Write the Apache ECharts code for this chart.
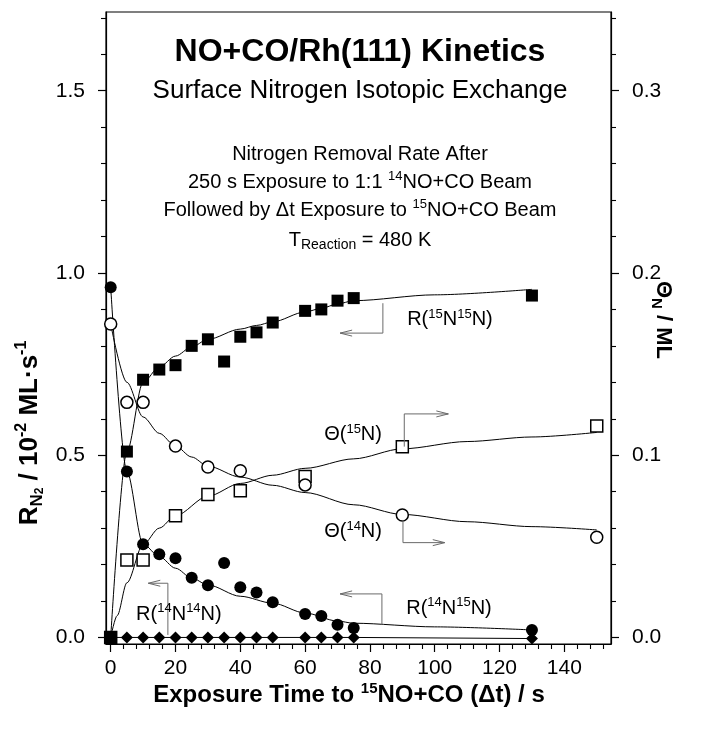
<!DOCTYPE html>
<html><head><meta charset="utf-8">
<script src="https://cdn.jsdelivr.net/npm/echarts@6/dist/echarts.min.js"></script>
<style>html,body{margin:0;padding:0;background:#fff}#c{width:706px;height:736px}</style>
</head><body><div id="c"></div>
<script>
// ---------------- DATA ----------------
// Rate measurements (left axis, 10^-2 ML/s)
const tRate   = [0, 5, 10, 15, 20, 25, 30, 35, 40, 45, 50, 60, 65, 70, 75, 130];
const r1515   = [0, 0.51, 0.707, 0.735, 0.747, 0.80, 0.818, 0.757, 0.825, 0.837, 0.864, 0.896, 0.90, 0.924, 0.931, 0.938];
const r1415   = [0.961, 0.455, 0.256, 0.228, 0.217, 0.164, 0.143, 0.204, 0.138, 0.123, 0.0965, 0.0645, 0.059, 0.035, 0.026, 0.0206];
const r1414   = [0, 0, 0, 0, 0, 0, 0, 0, 0, 0, 0, 0, 0, 0, 0, -0.003];
// Coverage measurements (right axis, ML)
const tCov    = [0, 5, 10, 20, 30, 40, 60, 90, 150];
const theta14 = [0.172, 0.129, 0.129, 0.105, 0.0935, 0.0915, 0.0837, 0.0672, 0.055];
const theta15 = [0, 0.0425, 0.0425, 0.0668, 0.0784, 0.0805, 0.0883, 0.1047, 0.116];
// Fitted curves
const fitT_r1515 = [0, 5, 10, 15, 20, 25, 30, 40, 45, 50, 60, 65, 70, 75, 100, 130];
const fit_r1515  = [0, 0.51, 0.70, 0.742, 0.772, 0.797, 0.818, 0.846, 0.856, 0.866, 0.893, 0.903, 0.915, 0.924, 0.94, 0.955];
const fitT_r1415 = [0, 5, 10, 15, 20, 25, 30, 40, 50, 60, 70, 75, 100, 130];
const fit_r1415  = [0.961, 0.455, 0.256, 0.222, 0.19, 0.163, 0.144, 0.113, 0.094, 0.067, 0.045, 0.039, 0.029, 0.0206];
const fitT_th14  = [0, 5, 10, 15, 20, 25, 30, 40, 50, 60, 75, 90, 110, 130, 150];
const fit_th14   = [0.172, 0.14, 0.121, 0.112, 0.105, 0.099, 0.094, 0.088, 0.0835, 0.0795, 0.0728, 0.0675, 0.0635, 0.0608, 0.059];
const fitT_th15  = [0, 2, 5, 10, 15, 20, 30, 40, 50, 60, 75, 90, 110, 130, 150];
const fit_th15   = [0, 0.012, 0.03, 0.051, 0.06, 0.0668, 0.0775, 0.0845, 0.089, 0.0928, 0.098, 0.1035, 0.1075, 0.110, 0.1125];
// Tick labels
const xTickLabels      = [0, 20, 40, 60, 80, 100, 120, 140];
const xMinorTicks      = [4,8,12,16,24,28,32,36,44,48,52,56,64,68,72,76,84,88,92,96,104,108,112,116,124,128,132,136,144,148,152];
const yLeftTickLabels  = [0, 0.5, 1.0, 1.5];
const yLeftMinorTicks  = [0.1,0.2,0.3,0.4,0.6,0.7,0.8,0.9,1.1,1.2,1.3,1.4,1.6,1.7];
const yRightTickLabels = [0, 0.1, 0.2, 0.3];
const yRightMinorTicks = [0.02,0.04,0.06,0.08,0.12,0.14,0.16,0.18,0.22,0.24,0.26,0.28,0.32,0.34];

// ---------------- CHART ----------------
const FONT = "'Liberation Sans', Arial, Helvetica, sans-serif";
const X_MIN = -1.45, X_MAX = 154.4;
const YL_MIN = -0.018, YL_MAX = 1.716;
const YR_MIN = YL_MIN * 0.2, YR_MAX = YL_MAX * 0.2;
const pairs = (xs, ys) => xs.map((x, i) => [x, ys[i]]);

const chart = echarts.init(document.getElementById('c'));

function majorAxis(extra) {
  return Object.assign({
    type: 'value',
    axisLine: { show: true, onZero: false, lineStyle: { color: '#000', width: 1.2 } },
    splitLine: { show: false },
  }, extra);
}
function minorAxis(extra) {
  return Object.assign({
    type: 'value',
    axisLine: { show: false, onZero: false },
    splitLine: { show: false },
    axisLabel: { show: false }
  }, extra);
}
const labelStyle = { color: '#000', fontSize: 21, fontFamily: FONT };

const option = {
  animation: false,
  backgroundColor: '#fff',
  grid: { left: 106, right: 95, top: 12, bottom: 92, show: true, borderColor: '#000', borderWidth: 1.2 },
  xAxis: [
    majorAxis({ min: X_MIN, max: X_MAX, position: 'bottom',
      axisTick: { show: true, inside: false, length: 8, customValues: xTickLabels, lineStyle: { color: '#000', width: 1.2 } },
      axisLabel: Object.assign({ show: true, customValues: xTickLabels, margin: 14, formatter: v => String(v) }, labelStyle) }),
    minorAxis({ min: X_MIN, max: X_MAX, position: 'bottom',
      axisTick: { show: true, inside: false, length: 5, customValues: xMinorTicks, lineStyle: { color: '#000', width: 1.1 } } })
  ],
  yAxis: [
    majorAxis({ min: YL_MIN, max: YL_MAX, position: 'left',
      axisTick: { show: true, inside: false, length: 8, customValues: yLeftTickLabels, lineStyle: { color: '#000', width: 1.2 } },
      axisLabel: Object.assign({ show: true, customValues: yLeftTickLabels, margin: 21, formatter: v => v.toFixed(1) }, labelStyle) }),
    majorAxis({ min: YR_MIN, max: YR_MAX, position: 'right',
      axisTick: { show: true, inside: false, length: 8, customValues: yRightTickLabels, lineStyle: { color: '#000', width: 1.2 } },
      axisLabel: Object.assign({ show: true, customValues: yRightTickLabels, margin: 21, formatter: v => v.toFixed(1) }, labelStyle) }),
    minorAxis({ min: YL_MIN, max: YL_MAX, position: 'left',
      axisTick: { show: true, inside: false, length: 5, customValues: yLeftMinorTicks, lineStyle: { color: '#000', width: 1.1 } } }),
    minorAxis({ min: YR_MIN, max: YR_MAX, position: 'right',
      axisTick: { show: true, inside: false, length: 5, customValues: yRightMinorTicks, lineStyle: { color: '#000', width: 1.1 } } })
  ],
  series: [
    { type: 'line', yAxisIndex: 0, data: pairs(fitT_r1515, fit_r1515), showSymbol: false, smooth: 0.3, smoothMonotone: 'x', lineStyle: { color: '#000', width: 1 }, z: 2, silent: true },
    { type: 'line', yAxisIndex: 0, data: pairs(fitT_r1415, fit_r1415), showSymbol: false, smooth: 0.3, smoothMonotone: 'x', lineStyle: { color: '#000', width: 1 }, z: 2, silent: true },
    { type: 'line', yAxisIndex: 1, data: pairs(fitT_th14, fit_th14), showSymbol: false, smooth: 0.3, smoothMonotone: 'x', lineStyle: { color: '#000', width: 1 }, z: 2, silent: true },
    { type: 'line', yAxisIndex: 1, data: pairs(fitT_th15, fit_th15), showSymbol: false, smooth: 0.3, smoothMonotone: 'x', lineStyle: { color: '#000', width: 1 }, z: 2, silent: true },
    { type: 'line', yAxisIndex: 0, data: pairs(tRate, r1414), symbol: 'diamond', symbolSize: 12, showSymbol: true, itemStyle: { color: '#000', opacity: 1 }, lineStyle: { color: '#000', width: 1 }, z: 3, silent: true },
    { type: 'scatter', yAxisIndex: 1, data: pairs(tCov, theta15), symbol: 'rect', symbolSize: 12, itemStyle: { color: '#fff', borderColor: '#000', borderWidth: 1.5, opacity: 1 }, z: 4, silent: true },
    { type: 'scatter', yAxisIndex: 1, data: pairs(tCov, theta14), symbol: 'circle', symbolSize: 12, itemStyle: { color: '#fff', borderColor: '#000', borderWidth: 1.5, opacity: 1 }, z: 4, silent: true },
    { type: 'scatter', yAxisIndex: 0, data: pairs(tRate, r1415), symbol: 'circle', symbolSize: 12, itemStyle: { color: '#000', opacity: 1 }, z: 5, silent: true },
    { type: 'scatter', yAxisIndex: 0, data: pairs(tRate, r1515), symbol: 'rect', symbolSize: 12, itemStyle: { color: '#000', opacity: 1 }, z: 5, silent: true }
  ]
};
chart.setOption(option);

// ---------------- TEXT & ANNOTATIONS ----------------
const supStyle = (fs, lh) => ({ fontSize: fs, lineHeight: lh, verticalAlign: 'top', fontFamily: FONT, fill: '#000' });
const subStyle = (fs, lh, bold) => ({ fontSize: fs, lineHeight: lh, verticalAlign: 'bottom', fontFamily: FONT, fill: '#000', fontWeight: bold ? 'bold' : 'normal' });

function textEl(x, y, text, fs, opts) {
  opts = opts || {};
  return {
    type: 'text', x: x, y: y, rotation: opts.rotation || 0, z: 100, silent: true,
    style: {
      text: text, fontSize: fs, fontFamily: FONT, fontWeight: opts.bold ? 'bold' : 'normal', fill: '#000',
      align: opts.align || 'center', verticalAlign: 'middle', lineHeight: opts.lineHeight || Math.round(fs * 1.2),
      rich: opts.rich || {}
    }
  };
}

const graphics = [];
const CX = 360;
graphics.push(textEl(CX, 52, 'NO+CO/Rh(111) Kinetics', 32, { bold: true }));
graphics.push(textEl(CX, 91, 'Surface Nitrogen Isotopic Exchange', 26));
graphics.push(textEl(CX, 154, 'Nitrogen Removal Rate After', 20, { lineHeight: 24 }));
graphics.push(textEl(CX, 182, '250 s Exposure to 1:1 {sup|14}NO+CO Beam', 20, { lineHeight: 24, rich: { sup: supStyle(13, 14) } }));
graphics.push(textEl(CX, 210, 'Followed by \u0394t Exposure to {sup|15}NO+CO Beam', 20, { lineHeight: 24, rich: { sup: supStyle(13, 14) } }));
graphics.push(textEl(CX, 240, 'T{sub|Reaction} = 480 K', 20, { lineHeight: 24, rich: { sub: subStyle(14, 12) } }));

// Axis titles
graphics.push(textEl(349, 695, 'Exposure Time to {sup|15}NO+CO (\u0394t) / s', 24, { bold: true, lineHeight: 28,
  rich: { sup: Object.assign(supStyle(15, 15), { fontWeight: 'bold' }) } }));
graphics.push(textEl(30, 433, 'R{sub|N}{sub2|2} / 10{sup|-2} ML\u00B7s{sup|-1}', 26, { bold: true, lineHeight: 32, rotation: Math.PI / 2,
  rich: { sub: subStyle(17, 14, true), sub2: subStyle(12, 8, true), sup: Object.assign(supStyle(16, 14), { fontWeight: 'bold' }) } }));
graphics.push(textEl(663, 320, '\u0398{sub|N} / ML', 22, { bold: true, lineHeight: 28, rotation: -Math.PI / 2,
  rich: { sub: subStyle(15, 13, true) } }));

// Series annotations with arrows (data coordinates, left axis units)
const annots = [
  { label: 'R({sup|15}N{sup|15}N)', text: [104.7, 0.871], path: [[84.0, 0.917], [84.0, 0.835], [70.8, 0.835]] },
  { label: '\u0398({sup|15}N)',     text: [74.8, 0.556],  path: [[90.6, 0.5236], [90.6, 0.6133], [104.2, 0.6133]] },
  { label: '\u0398({sup|14}N)',     text: [74.8, 0.2903], path: [[90.2, 0.3224], [90.2, 0.2601], [103.1, 0.2601]] },
  { label: 'R({sup|14}N{sup|15}N)', text: [104.4, 0.0801], path: [[83.7, 0.0343], [83.7, 0.1194], [70.8, 0.1194]] },
  { label: 'R({sup|14}N{sup|14}N)', text: [21.05, 0.0637], path: [[17.65, 0.0069], [17.65, 0.1487], [11.6, 0.1487]] }
];
const toPx = p => chart.convertToPixel({ xAxisIndex: 0, yAxisIndex: 0 }, p);
const ARROW = '#6a6a6a';
annots.forEach(a => {
  const pts = a.path.map(toPx);
  graphics.push({ type: 'polyline', z: 90, silent: true, shape: { points: pts }, style: { stroke: ARROW, lineWidth: 1, fill: null } });
  const tip = pts[pts.length - 1], prev = pts[pts.length - 2];
  const dx = tip[0] - prev[0], dy = tip[1] - prev[1];
  const len = Math.hypot(dx, dy), ux = dx / len, uy = dy / len;
  const L = 12, W = 3;
  const b = [tip[0] - ux * L, tip[1] - uy * L];
  graphics.push({ type: 'polyline', z: 90, silent: true,
    shape: { points: [[b[0] - uy * W, b[1] + ux * W], tip, [b[0] + uy * W, b[1] - ux * W]] },
    style: { stroke: ARROW, lineWidth: 1, fill: null } });
  const tp = toPx(a.text);
  graphics.push(textEl(tp[0], tp[1], a.label, 20, { lineHeight: 24, rich: { sup: supStyle(13, 14) } }));
});

chart.setOption({ graphic: graphics });
</script>
</body></html>
